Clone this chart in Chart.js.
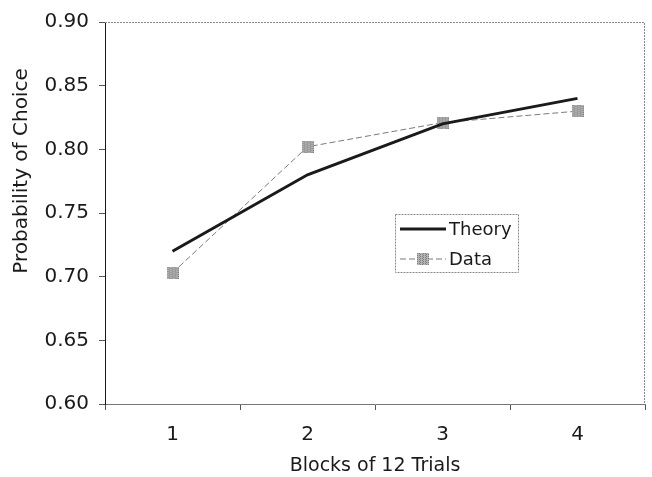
<!DOCTYPE html>
<html>
<head>
<meta charset="utf-8">
<script src="https://cdn.jsdelivr.net/npm/chart.js@4.4.1/dist/chart.umd.min.js"></script>
<style>
html,body{margin:0;padding:0;background:#fff;}
#wrap{width:652px;height:477px;position:relative;}
</style>
</head>
<body>
<div id="wrap"><canvas id="c" width="652" height="477"></canvas></div>
<script>
const categories = ['1', '2', '3', '4'];
const theoryValues = [0.72, 0.78, 0.82, 0.84];
const dataValues = [0.703, 0.802, 0.821, 0.830];
const yTicks = [0.60, 0.65, 0.70, 0.75, 0.80, 0.85, 0.90];
const xTitle = 'Blocks of 12 Trials';
const yTitle = 'Probability of Choice';
const seriesNames = ['Theory', 'Data'];

const FONT = "'DejaVu Sans', Verdana, sans-serif";

// textured grey square marker
function makeMarker(size) {
  const cv = document.createElement('canvas');
  cv.width = size; cv.height = size;
  const g = cv.getContext('2d');
  g.fillStyle = '#b4b4b4';
  g.fillRect(0, 0, size, size);
  g.fillStyle = '#7e7e7e';
  for (let i = 0; i < size; i++) for (let j = 0; j < size; j++) {
    if ((i + j) % 2 === 0 && (i % 3 !== 1)) g.fillRect(i, j, 1, 1);
  }
  return cv;
}
const marker = makeMarker(12);

const legendPlugin = {
  id: 'insideLegend',
  afterDatasetsDraw(chart) {
    const ctx = chart.ctx;
    const x0 = 395, y0 = 214, w = 123, h = 58;
    ctx.save();
    ctx.strokeStyle = '#8a8a8a';
    ctx.lineWidth = 1;
    ctx.setLineDash([2, 1]);
    ctx.strokeRect(x0 + 0.5, y0 + 0.5, w, h);
    ctx.setLineDash([]);
    const ds = chart.data.datasets;
    const rows = [229, 259];
    ds.forEach((d, i) => {
      const y = rows[i];
      ctx.strokeStyle = d.borderColor;
      ctx.lineWidth = d.borderWidth;
      ctx.setLineDash(d.borderDash || []);
      ctx.beginPath(); ctx.moveTo(400, y); ctx.lineTo(446, y); ctx.stroke();
      ctx.setLineDash([]);
      if (i === 1) {
        ctx.drawImage(marker, 423 - 6, y - 6);
      }
      ctx.fillStyle = '#1a1a1a';
      ctx.font = '18px ' + FONT;
      ctx.textBaseline = 'middle';
      ctx.textAlign = 'left';
      ctx.fillText(d.label, 449, y + 1);
    });
    ctx.restore();
  }
};

const yTitlePlugin = {
  id: 'yTitleDraw',
  afterDraw(chart) {
    const ctx = chart.ctx;
    ctx.save();
    ctx.translate(22, 171);
    ctx.rotate(-Math.PI / 2);
    ctx.fillStyle = '#1a1a1a';
    ctx.font = '20px ' + FONT;
    ctx.textAlign = 'center';
    ctx.textBaseline = 'middle';
    ctx.fillText(yTitle, 0, 0);
    ctx.restore();
  }
};

const borderPlugin = {
  id: 'plotBorder',
  beforeDatasetsDraw(chart) {
    const a = chart.chartArea, ctx = chart.ctx;
    ctx.save();
    ctx.strokeStyle = '#888';
    ctx.lineWidth = 1;
    ctx.setLineDash([2, 1]);
    ctx.beginPath();
    ctx.moveTo(a.left, a.top + 0.5); ctx.lineTo(a.right - 0.5, a.top + 0.5);
    ctx.lineTo(a.right - 0.5, a.bottom);
    ctx.stroke();
    ctx.restore();
  }
};

new Chart(document.getElementById('c'), {
  type: 'line',
  data: {
    labels: categories,
    datasets: [
      {
        label: seriesNames[0],
        data: theoryValues,
        borderColor: '#1a1a1a',
        borderWidth: 3,
        pointRadius: 0,
        pointStyle: false,
        tension: 0,
        fill: false
      },
      {
        label: seriesNames[1],
        data: dataValues,
        borderColor: '#7a7a7a',
        borderWidth: 1,
        borderDash: [6, 3],
        pointStyle: marker,
        pointRadius: 6,
        tension: 0,
        fill: false
      }
    ]
  },
  options: {
    responsive: false,
    animation: false,
    devicePixelRatio: 1,
    layout: { padding: { top: 18, right: 3, left: 0, bottom: 0 } },
    plugins: {
      legend: { display: false },
      tooltip: { enabled: false }
    },
    scales: {
      x: {
        type: 'category',
        offset: true,
        grid: {
          display: true,
          offset: true,
          drawOnChartArea: false,
          drawTicks: true,
          tickLength: 6,
          color: '#555',
          tickColor: '#555'
        },
        border: { display: true, color: '#777', width: 1 },
        ticks: {
          color: '#1a1a1a',
          font: { family: FONT, size: 20 },
          padding: 13,
          maxRotation: 0
        },
        title: {
          display: true,
          text: xTitle,
          color: '#1a1a1a',
          font: { family: FONT, size: 19 },
          padding: { top: 2, bottom: 0 }
        },
        afterFit(scale) { scale.height = 73; }
      },
      y: {
        min: 0.60,
        max: 0.90,
        afterBuildTicks(scale) { scale.ticks = yTicks.map(v => ({ value: v })); },
        grid: {
          display: true,
          drawOnChartArea: false,
          drawTicks: true,
          tickLength: 6,
          color: '#555',
          tickColor: '#555'
        },
        border: { display: true, color: '#1a1a1a', width: 1 },
        ticks: {
          color: '#1a1a1a',
          font: { family: FONT, size: 20 },
          padding: 10,
          callback: (v) => Number(v).toFixed(2)
        },
        title: { display: false },
        afterFit(scale) { scale.width = 105; }
      }
    }
  },
  plugins: [borderPlugin, legendPlugin, yTitlePlugin]
});
</script>
</body>
</html>
